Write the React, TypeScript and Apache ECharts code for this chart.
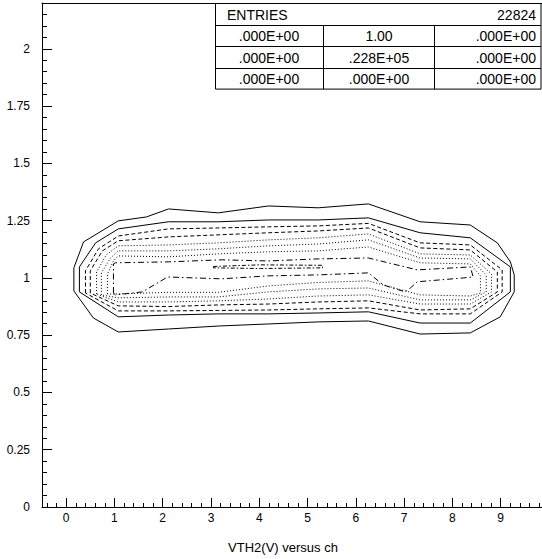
import React, { useEffect, useRef } from "react";
import * as echarts from "echarts";

// ---- axis ticks / labels ----
const xMajor = [0, 1, 2, 3, 4, 5, 6, 7, 8, 9];
const yMajor = [0, 0.25, 0.5, 0.75, 1, 1.25, 1.5, 1.75, 2];
const xMinor: number[] = [];
for (let k = -2; k <= 49; k++) if (k % 5 !== 0) xMinor.push(+(k * 0.2).toFixed(2));
const yMinor: number[] = [];
for (let k = 1; k <= 43; k++) if (k % 5 !== 0) yMinor.push(+(k * 0.05).toFixed(2));

const xTitle = "VTH2(V) versus ch";

// ---- statistics box ----
const statsHeader = ["ENTRIES", "22824"];
const statsRows = [
  [".000E+00", "1.00", ".000E+00"],
  [".000E+00", ".228E+05", ".000E+00"],
  [".000E+00", ".000E+00", ".000E+00"],
];

// ---- contour levels (ch, VTH2), outermost first ----
const contour1 = [
  [0.16, 0.943], [0.16, 1.044], [0.36, 1.157], [1.08, 1.249], [1.66, 1.266], [2.12, 1.301],
  [3.15, 1.284], [4.19, 1.314], [5.22, 1.306], [6.26, 1.323], [7.33, 1.245], [8.37, 1.231],
  [8.93, 1.153], [9.2, 1.07], [9.28, 1.013], [9.28, 0.939], [8.99, 0.83], [8.37, 0.76],
  [7.33, 0.755], [6.26, 0.812], [5.22, 0.808], [4.19, 0.799], [3.15, 0.79], [2.12, 0.777],
  [1.08, 0.764], [0.565, 0.825], [0.16, 0.943],
];
const contour2 = [
  [0.275, 0.939], [0.275, 1.048], [0.61, 1.153], [1.08, 1.214], [2.12, 1.245], [3.15, 1.245],
  [4.19, 1.253], [5.22, 1.253], [6.26, 1.262], [7.33, 1.197], [8.37, 1.175], [9.2, 1.048],
  [9.2, 0.939], [8.37, 0.803], [7.33, 0.803], [6.26, 0.852], [5.22, 0.847], [4.19, 0.843],
  [3.15, 0.843], [2.12, 0.838], [1.08, 0.83], [0.275, 0.939],
];
const contour3 = [
  [0.4, 0.934], [0.4, 1.031], [0.67, 1.127], [1.08, 1.183], [2.12, 1.214], [3.15, 1.218],
  [4.19, 1.223], [5.22, 1.227], [6.26, 1.238], [7.33, 1.153], [8.37, 1.144], [9.03, 1.035],
  [9.03, 0.939], [8.37, 0.843], [7.33, 0.843], [6.26, 0.869], [5.22, 0.865], [4.19, 0.86],
  [3.15, 0.858], [2.12, 0.856], [1.08, 0.856], [0.4, 0.934],
];
const contour4 = [
  [0.5, 0.934], [0.5, 1.031], [0.75, 1.118], [1.08, 1.162], [2.12, 1.179], [3.15, 1.188],
  [4.19, 1.197], [5.22, 1.205], [6.26, 1.218], [7.33, 1.131], [8.37, 1.122], [8.93, 1.026],
  [8.93, 0.939], [8.37, 0.865], [7.33, 0.86], [6.26, 0.9], [5.22, 0.895], [4.19, 0.886],
  [3.15, 0.882], [2.12, 0.875], [1.08, 0.878], [0.5, 0.934],
];
const contour5 = [
  [0.63, 0.93], [0.63, 1.026], [0.83, 1.1], [1.08, 1.14], [2.12, 1.144], [3.15, 1.153],
  [4.19, 1.166], [5.22, 1.175], [6.26, 1.192], [7.33, 1.105], [8.37, 1.1], [8.81, 1.017],
  [8.81, 0.939], [8.37, 0.886], [7.33, 0.886], [6.26, 0.926], [5.22, 0.921], [4.19, 0.908],
  [3.15, 0.9], [2.12, 0.895], [1.08, 0.895], [0.63, 0.93],
];
const contour6 = [
  [0.73, 0.926], [0.73, 1.022], [0.92, 1.087], [1.08, 1.118], [2.12, 1.118], [3.15, 1.127],
  [4.19, 1.14], [5.22, 1.148], [6.26, 1.166], [7.33, 1.087], [8.37, 1.083], [8.7, 1.013],
  [8.7, 0.939], [8.37, 0.904], [7.33, 0.904], [6.26, 0.956], [5.22, 0.952], [4.19, 0.939],
  [3.15, 0.917], [2.12, 0.917], [1.08, 0.913], [0.73, 0.926],
];
const contour7 = [
  [0.855, 0.93], [0.855, 1.017], [0.98, 1.074], [1.08, 1.096], [2.12, 1.092], [3.15, 1.105],
  [4.19, 1.114], [5.22, 1.118], [6.26, 1.135], [7.33, 1.066], [8.37, 1.061], [8.58, 1.009],
  [8.58, 0.934], [8.37, 0.921], [7.33, 0.926], [6.26, 0.987], [5.22, 0.98], [4.19, 0.965],
  [3.15, 0.937], [2.12, 0.937], [1.08, 0.93], [0.855, 0.93],
];
const contour8 = [
  [0.98, 0.934], [0.98, 1.061], [1.02, 1.066], [2.12, 1.07], [3.22, 1.079], [4.19, 1.074],
  [5.22, 1.083], [6.26, 1.087], [7.27, 1.035], [8.37, 1.048], [8.43, 1.004], [8.23, 1.0],
  [7.27, 0.983], [7.13, 0.956], [7.02, 0.939], [6.57, 0.969], [6.26, 1.022], [5.22, 1.013],
  [4.19, 1.009], [3.22, 0.996], [2.1, 1.004], [1.58, 0.939], [1.02, 0.926], [0.98, 0.934],
];
const contour9 = [
  [3.05, 1.05], [4.02, 1.057], [5.31, 1.055], [5.31, 1.044], [4.02, 1.041], [3.05, 1.044], [3.05, 1.05],
];

const contours = [contour1, contour2, contour3, contour4, contour5, contour6, contour7, contour8, contour9];

const SOLID = "solid";
const DASH = [4, 2.5];
const DOT = [1, 2];
const DASHDOT = [6, 3, 1.5, 3];
const lineTypes: any[] = [SOLID, SOLID, DASH, DASH, DOT, DOT, DOT, DASHDOT, [4, 2, 1.5, 2]];

const FONT = "'Liberation Sans', Arial, Helvetica, sans-serif";

export default function App() {
  const ref = useRef<HTMLDivElement>(null);
  useEffect(() => {
    if (!ref.current) return;
    const chart = echarts.init(ref.current, null, { renderer: "svg" });

    const tL = 215.5, tR = 541, tT = 3.5, rowH = 21.4;
    const c1 = 323.5, c2 = 434.5;
    const graphics: any[] = [
      {
        type: "rect",
        z: 10,
        shape: { x: tL, y: tT, width: tR - tL, height: rowH * 4 },
        style: { fill: "#fff", stroke: "#000", lineWidth: 1 },
      },
    ];
    for (let r = 1; r < 4; r++) {
      const y = Math.round(tT + rowH * r) + 0.5;
      graphics.push({ type: "line", z: 11, shape: { x1: tL, y1: y, x2: tR, y2: y }, style: { stroke: "#000", lineWidth: 1 } });
    }
    [c1, c2].forEach((x) =>
      graphics.push({
        type: "line",
        z: 11,
        shape: { x1: x, y1: Math.round(tT + rowH) + 0.5, x2: x, y2: tT + rowH * 4 },
        style: { stroke: "#000", lineWidth: 1 },
      })
    );
    const txt = (s: string, x: number, y: number, align: string) => ({
      type: "text",
      z: 12,
      x,
      y,
      style: { text: s, fill: "#000", font: `14px ${FONT}`, textAlign: align, textVerticalAlign: "middle" },
    });
    graphics.push(txt(statsHeader[0], 227, tT + rowH / 2 + 0.5, "left"));
    graphics.push(txt(statsHeader[1], 536, tT + rowH / 2 + 0.5, "right"));
    statsRows.forEach((row, r) => {
      const y = tT + rowH * (r + 1.5) + 0.5;
      graphics.push(txt(row[0], 269, y, "center"));
      graphics.push(txt(row[1], 379, y, "center"));
      graphics.push(txt(row[2], 536, y, "right"));
    });
    graphics.push({
      type: "text",
      x: 283,
      y: 547,
      style: { text: xTitle, fill: "#000", font: `13px ${FONT}`, textAlign: "center", textVerticalAlign: "middle" },
    });

    const axisBase = {
      type: "value",
      splitLine: { show: false },
    };

    chart.setOption({
      animation: false,
      backgroundColor: "#fff",
      grid: { left: 42, right: -7, top: 3, bottom: 52, containLabel: false, outerBoundsMode: "none" },
      xAxis: [
        {
          ...axisBase,
          min: -0.5,
          max: 10,
          position: "bottom",
          axisLine: { show: true, onZero: false, lineStyle: { color: "#000", width: 1 } },
          axisTick: { show: true, inside: true, length: 9, customValues: xMajor, lineStyle: { color: "#000" } },
          axisLabel: { show: true, customValues: xMajor, color: "#000", fontSize: 12, fontFamily: FONT, margin: 5 },
        },
        {
          ...axisBase,
          min: -0.5,
          max: 10,
          position: "bottom",
          axisLine: { show: false, onZero: false },
          axisTick: { show: true, inside: true, length: 4, customValues: xMinor, lineStyle: { color: "#000" } },
          axisLabel: { show: false },
        },
        {
          ...axisBase,
          min: -0.5,
          max: 10,
          position: "top",
          axisLine: { show: true, onZero: false, lineStyle: { color: "#000", width: 1 } },
          axisTick: { show: false },
          axisLabel: { show: false },
        },
      ],
      yAxis: [
        {
          ...axisBase,
          min: 0,
          max: 2.2,
          position: "left",
          axisLine: { show: true, onZero: false, lineStyle: { color: "#000", width: 1 } },
          axisTick: { show: true, inside: true, length: 10, customValues: yMajor, lineStyle: { color: "#000" } },
          axisLabel: { show: true, customValues: yMajor, color: "#000", fontSize: 12, fontFamily: FONT, margin: 12 },
        },
        {
          ...axisBase,
          min: 0,
          max: 2.2,
          position: "left",
          axisLine: { show: false, onZero: false },
          axisTick: { show: true, inside: true, length: 5, customValues: yMinor, lineStyle: { color: "#000" } },
          axisLabel: { show: false },
        },
      ],
      series: contours.map((c, i) => ({
        type: "line",
        xAxisIndex: 0,
        yAxisIndex: 0,
        data: c,
        symbol: "none",
        silent: true,
        lineStyle: { color: "#000", width: 1, type: lineTypes[i] },
      })),
      graphic: graphics,
    });
    return () => chart.dispose();
  }, []);
  return <div ref={ref} style={{ position: "absolute", left: 0, top: 0, width: 542, height: 559 }} />;
}
